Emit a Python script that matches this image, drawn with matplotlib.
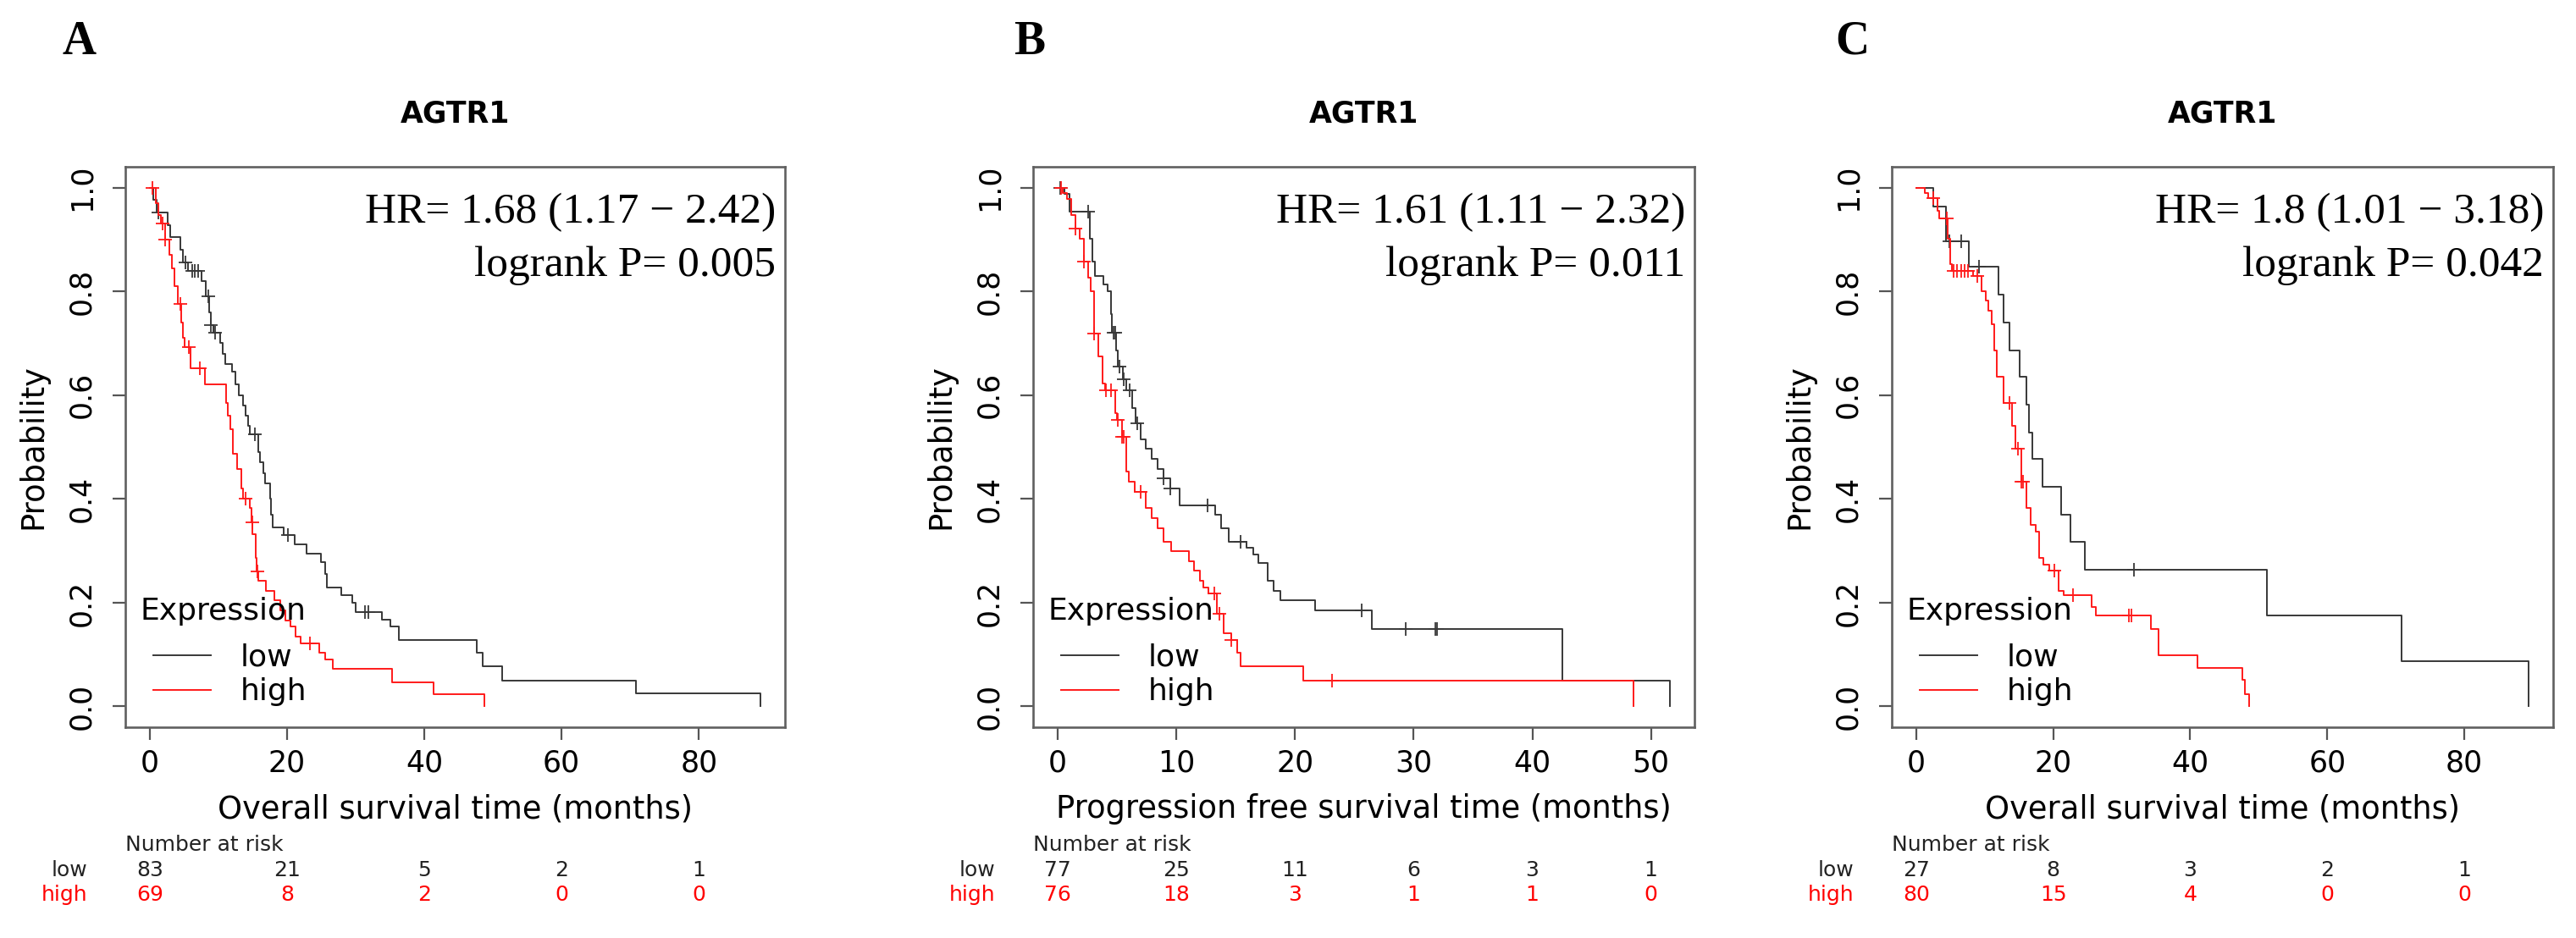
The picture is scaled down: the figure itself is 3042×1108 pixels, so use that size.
import numpy as np
import matplotlib
matplotlib.use('Agg')
import matplotlib.pyplot as plt
import matplotlib.transforms as mtransforms
from matplotlib.lines import Line2D

plt.rcParams['font.family'] = 'DejaVu Sans'

LOW_COL = '#383838'
HIGH_COL = '#ff1a1a'
SERIF = 'Liberation Serif'

# ---- A: overall survival ----
a_low_t = [0, 0.5, 1.0, 2.6, 3.0, 4.4, 4.8, 5.6, 7.6, 8.2, 8.6, 8.9, 9.3, 10.2, 10.6, 11.0,
           12.0, 12.5, 13.0, 13.6, 14.0, 14.3, 14.6, 15.8, 16.0, 16.6, 16.8, 17.5, 17.7, 17.9,
           19.5, 21.1, 22.8, 24.9, 25.5, 25.8, 27.9, 29.5, 30.0, 33.8, 35.1, 36.3, 47.7, 48.5,
           51.3, 70.9, 89.0]
a_low_s = [1.0, 0.976, 0.952, 0.928, 0.905, 0.88, 0.855, 0.84, 0.82, 0.79, 0.76, 0.735, 0.72,
           0.70, 0.68, 0.66, 0.645, 0.62, 0.60, 0.58, 0.56, 0.54, 0.525, 0.49, 0.47, 0.45, 0.43,
           0.40, 0.37, 0.345, 0.33, 0.312, 0.295, 0.278, 0.255, 0.23, 0.215, 0.20, 0.182, 0.168,
           0.154, 0.128, 0.103, 0.077, 0.05, 0.025, 0.0]
a_low_cens = [1.3, 5.2, 6.2, 6.6, 7.0, 8.5, 8.9, 9.5, 15.3, 20.1, 31.3, 31.9]
a_high_t = [0, 0.9, 1.2, 1.6, 2.2, 2.8, 3.25, 3.6, 4.1, 4.6, 4.8, 5.1, 5.9, 8.0, 11.1, 11.4,
            11.7, 12.1, 12.7, 13.3, 13.6, 14.6, 14.8, 15.0, 15.4, 15.6, 15.8, 16.9, 18.1, 19.0,
            19.7, 20.5, 21.3, 22.0, 24.7, 25.5, 26.7, 35.3, 41.3, 48.7]
a_high_s = [1.0, 0.97, 0.947, 0.93, 0.90, 0.87, 0.845, 0.81, 0.775, 0.74, 0.71, 0.693, 0.652,
            0.62, 0.585, 0.56, 0.534, 0.487, 0.458, 0.42, 0.40, 0.382, 0.355, 0.332, 0.287, 0.26,
            0.242, 0.223, 0.204, 0.185, 0.166, 0.154, 0.135, 0.122, 0.103, 0.09, 0.072, 0.046,
            0.023, 0.0]
a_high_cens = [0.36, 1.9, 2.3, 4.5, 5.7, 7.3, 14.0, 14.9, 15.7, 23.3]
a_ticks = [0, 20, 40, 60, 80]
a_risk_low = [83, 21, 5, 2, 1]
a_risk_high = [69, 8, 2, 0, 0]

# ---- B: progression free survival ----
b_low_t = [0, 0.55, 1.0, 2.69, 2.93, 3.17, 3.88, 4.24, 4.48, 4.6, 4.9, 5.07, 5.5, 5.79, 6.3,
           6.6, 6.98, 7.45, 7.9, 8.4, 8.9, 9.5, 10.3, 13.3, 13.8, 14.4, 15.9, 16.5, 16.9, 17.7,
           18.2, 18.8, 21.7, 26.5, 42.5, 51.6]
b_low_s = [1.0, 0.987, 0.953, 0.902, 0.858, 0.829, 0.814, 0.80, 0.756, 0.72, 0.686, 0.655,
           0.63, 0.61, 0.575, 0.545, 0.515, 0.496, 0.477, 0.458, 0.439, 0.42, 0.388, 0.369,
           0.344, 0.318, 0.306, 0.293, 0.277, 0.242, 0.223, 0.204, 0.185, 0.15, 0.049, 0.0]
b_low_cens = [0.2, 2.57, 4.71, 4.83, 5.2, 5.6, 6.1, 6.74, 8.9, 9.5, 12.6, 15.4, 25.6, 29.3,
              31.8, 32.0]
b_high_t = [0, 0.43, 0.79, 1.14, 1.5, 1.86, 2.2, 2.57, 2.8, 3.05, 3.4, 3.76, 4.0, 4.83, 5.0,
            5.4, 5.76, 6.0, 6.5, 7.45, 7.9, 8.4, 8.9, 9.6, 11.1, 11.5, 11.98, 12.3, 12.7, 13.4,
            14.0, 14.6, 15.1, 15.4, 20.7, 48.5]
b_high_s = [1.0, 0.99, 0.978, 0.947, 0.921, 0.902, 0.858, 0.826, 0.80, 0.718, 0.674, 0.623,
            0.61, 0.566, 0.553, 0.52, 0.452, 0.433, 0.414, 0.382, 0.363, 0.344, 0.318, 0.299,
            0.28, 0.261, 0.242, 0.23, 0.217, 0.179, 0.141, 0.128, 0.103, 0.077, 0.049, 0.0]
b_high_cens = [0.3, 1.5, 2.2, 3.05, 4.1, 4.5, 5.07, 5.4, 5.6, 7.0, 13.2, 13.6, 14.6, 23.1]
b_ticks = [0, 10, 20, 30, 40, 50]
b_risk_low = [77, 25, 11, 6, 3, 1]
b_risk_high = [76, 18, 3, 1, 1, 0]

# ---- C: overall survival ----
c_low_t = [0, 2.5, 4.37, 7.66, 12.0, 12.8, 13.6, 15.1, 16.1, 16.5, 16.9, 18.4, 21.1, 22.5,
           24.6, 51.2, 70.8, 89.4]
c_low_s = [1.0, 0.963, 0.896, 0.848, 0.794, 0.74, 0.686, 0.636, 0.582, 0.528, 0.477, 0.423,
           0.369, 0.318, 0.264, 0.176, 0.088, 0.0]
c_low_cens = [4.8, 6.6, 9.1, 31.8]
c_high_t = [0, 1.2, 1.7, 3.1, 3.3, 4.6, 5.0, 5.2, 8.3, 9.5, 10.1, 10.5, 10.96, 11.4, 11.8,
            12.8, 14.0, 14.5, 15.3, 16.1, 16.7, 17.5, 17.95, 18.6, 19.4, 20.8, 21.5, 25.6,
            26.2, 34.2, 35.4, 41.0, 47.6, 48.0, 48.6]
c_high_s = [1.0, 0.99, 0.98, 0.955, 0.94, 0.902, 0.852, 0.839, 0.829, 0.80, 0.782, 0.763,
            0.737, 0.686, 0.636, 0.585, 0.54, 0.496, 0.433, 0.382, 0.35, 0.337, 0.287, 0.274,
            0.261, 0.223, 0.214, 0.191, 0.176, 0.149, 0.098, 0.075, 0.052, 0.023, 0.0]
c_high_cens = [2.5, 4.4, 5.5, 6.0, 6.5, 7.0, 7.5, 8.9, 13.6, 14.9, 15.3, 15.6, 20.2, 22.9,
               31.0, 31.4]
c_ticks = [0, 20, 40, 60, 80]
c_risk_low = [27, 8, 3, 2, 1]
c_risk_high = [80, 15, 4, 0, 0]

hr_texts = ['HR= 1.68 (1.17 \u2212 2.42)', 'HR= 1.61 (1.11 \u2212 2.32)', 'HR= 1.8 (1.01 \u2212 3.18)']
p_texts = ['logrank P= 0.005', 'logrank P= 0.011', 'logrank P= 0.042']
xlabels = ['Overall survival time (months)', 'Progression free survival time (months)',
           'Overall survival time (months)']
letters = ['A', 'B', 'C']


def at_time(t, s, ct):
    idx = np.searchsorted(np.asarray(t), np.asarray(ct), side='right') - 1
    return np.asarray(s)[idx]


def km_panel(ax, low, high, ticks, xlabel, hr, p, risk_low, risk_high):
    for (t, s, cens), col in ((low, LOW_COL), (high, HIGH_COL)):
        ax.plot(t, s, drawstyle='steps-post', color=col, lw=1.4)
        ax.plot(cens, at_time(t, s, cens), ls='none', marker='+', ms=12, mew=1.3, color=col)

    xmax = max(low[0][-1], high[0][-1])
    ax.set_xlim(-0.04 * xmax, 1.04 * xmax)
    ax.set_ylim(-0.04, 1.04)
    ax.set_xticks(ticks)
    ax.set_yticks([0, 0.2, 0.4, 0.6, 0.8, 1.0])
    ax.set_yticklabels(['0.0', '0.2', '0.4', '0.6', '0.8', '1.0'], rotation=90, va='center')
    ax.tick_params(labelsize=25, length=11, width=1.6, color='#555555', pad=7)
    ax.tick_params(axis='y', pad=14)
    for sp in ax.spines.values():
        sp.set_color('#606060')
        sp.set_linewidth(1.9)

    ax.set_title('AGTR1', fontsize=25, fontweight='bold', pad=38)
    ax.set_xlabel(xlabel, fontsize=26.5, labelpad=14)
    ax.set_ylabel('Probability', fontsize=26.5, labelpad=16)

    ax.text(0.986, 0.918, hr, transform=ax.transAxes, ha='right', va='center',
            family=SERIF, fontsize=37)
    ax.text(0.986, 0.823, p, transform=ax.transAxes, ha='right', va='center',
            family=SERIF, fontsize=37)

    # legend: title drawn as text, entries via legend()
    ax.text(0.023, 0.207, 'Expression', transform=ax.transAxes, ha='left', va='center',
            fontsize=26)
    handles = [Line2D([], [], color=LOW_COL, lw=1.4), Line2D([], [], color=HIGH_COL, lw=1.4)]
    ax.legend(handles, ['low', 'high'], loc='center left', bbox_to_anchor=(0.042, 0.094),
              frameon=False, fontsize=26, handlelength=1.9, handletextpad=0.94,
              labelspacing=0.2, borderpad=0, borderaxespad=0)

    # number at risk table
    tr = mtransforms.blended_transform_factory(ax.transData, ax.transAxes)
    ax.text(0, -0.21, 'Number at risk', transform=ax.transAxes, ha='left', va='center',
            fontsize=18, color='#222222')
    ax.text(-0.057, -0.255, 'low', transform=ax.transAxes, ha='right', va='center',
            fontsize=18, color='#222222')
    ax.text(-0.057, -0.299, 'high', transform=ax.transAxes, ha='right', va='center',
            fontsize=18, color='red')
    for x, nl, nh in zip(ticks, risk_low, risk_high):
        ax.text(x, -0.255, str(nl), transform=tr, ha='center', va='center', fontsize=18,
                color='#222222')
        ax.text(x, -0.299, str(nh), transform=tr, ha='center', va='center', fontsize=18,
                color='red')


fig = plt.figure(figsize=(30.42, 11.08), dpi=100)
rects = [[148 / 3042, 249 / 1108, 779 / 3042, 662 / 1108],
         [1220 / 3042, 249 / 1108, 781 / 3042, 662 / 1108],
         [2234 / 3042, 249 / 1108, 781 / 3042, 662 / 1108]]
panels = [((a_low_t, a_low_s, a_low_cens), (a_high_t, a_high_s, a_high_cens), a_ticks,
           a_risk_low, a_risk_high),
          ((b_low_t, b_low_s, b_low_cens), (b_high_t, b_high_s, b_high_cens), b_ticks,
           b_risk_low, b_risk_high),
          ((c_low_t, c_low_s, c_low_cens), (c_high_t, c_high_s, c_high_cens), c_ticks,
           c_risk_low, c_risk_high)]
letter_x = [74 / 3042, 1197 / 3042, 2167 / 3042]

for i, (low, high, ticks, rl, rh) in enumerate(panels):
    ax = fig.add_axes(rects[i])
    km_panel(ax, low, high, ticks, xlabels[i], hr_texts[i], p_texts[i], rl, rh)
    fig.text(letter_x[i], 1 - 50 / 1108, letters[i], family=SERIF, fontweight='bold',
             fontsize=40, ha='left', va='center')

fig.savefig('out.png', dpi=100, facecolor='white')
